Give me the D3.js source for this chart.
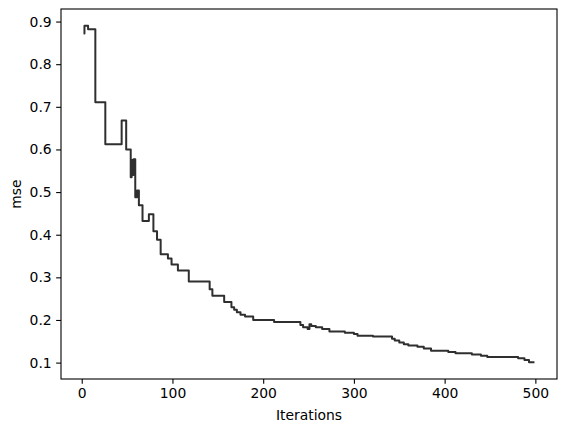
<!DOCTYPE html>
<html>
<head>
<meta charset="utf-8">
<script src="https://cdn.jsdelivr.net/npm/d3@7"></script>
<style>
  html, body { margin: 0; padding: 0; background: #fff; }
  svg { display: block; font-family: "DejaVu Sans", sans-serif; }
</style>
</head>
<body>
<svg id="chart" width="567" height="432"></svg>
<script>
// Iteration at which each new mse value starts (step-after)
const iterations = [2, 3, 7, 15, 26, 44, 49, 54, 55, 56, 57, 59, 61, 63, 67, 74, 79, 83, 87, 95, 99, 106, 118, 141, 144, 157, 165, 168, 171, 175, 180, 189, 212, 241, 244, 249, 251, 253, 258, 265, 273, 290, 300, 304, 321, 342, 345, 350, 355, 360, 370, 377, 385, 404, 412, 430, 440, 447, 481, 488, 493, 499];
const mse = [0.872, 0.890, 0.882, 0.711, 0.612, 0.668, 0.600, 0.535, 0.575, 0.540, 0.577, 0.488, 0.504, 0.469, 0.432, 0.448, 0.408, 0.388, 0.354, 0.344, 0.330, 0.316, 0.290, 0.272, 0.257, 0.242, 0.230, 0.224, 0.218, 0.212, 0.208, 0.200, 0.195, 0.188, 0.183, 0.179, 0.190, 0.186, 0.183, 0.179, 0.173, 0.170, 0.167, 0.163, 0.161, 0.156, 0.152, 0.147, 0.143, 0.140, 0.137, 0.133, 0.128, 0.125, 0.122, 0.119, 0.116, 0.113, 0.110, 0.106, 0.101, 0.101];
const xTicks = [0, 100, 200, 300, 400, 500];
const yTicks = [0.1, 0.2, 0.3, 0.4, 0.5, 0.6, 0.7, 0.8, 0.9];
const xLabel = "Iterations";
const yLabel = "mse";

(function () {
  const svg = d3.select("#chart");
  const mLeft = 61, mRight = 557, mTop = 9, mBottom = 379;

  function padded(ext) {
    const m = (ext[1] - ext[0]) * 0.05;
    return [ext[0] - m, ext[1] + m];
  }
  const x = d3.scaleLinear().domain(padded(d3.extent(iterations))).range([mLeft, mRight]);
  const y = d3.scaleLinear().domain(padded(d3.extent(mse))).range([mBottom, mTop]);

  const data = iterations.map((it, i) => ({ it, v: mse[i] }));

  const line = d3.line()
    .x(d => x(d.it))
    .y(d => y(d.v))
    .curve(d3.curveStepAfter);

  svg.append("path")
    .datum(data)
    .attr("fill", "none")
    .attr("stroke", "#2f2f2f")
    .attr("stroke-width", 2)
    .attr("stroke-linejoin", "round")
    .attr("stroke-linecap", "butt")
    .attr("d", line);

  const fontSize = 13.9;
  const tickLen = 4.86;

  const xAxis = d3.axisBottom(x).tickValues(xTicks).tickFormat(d3.format("d"))
    .tickSize(tickLen).tickPadding(4.5).tickSizeOuter(0);
  const gx = svg.append("g").attr("transform", `translate(0,${mBottom})`).call(xAxis);
  gx.select(".domain").remove();
  gx.selectAll("line").attr("stroke", "#000").attr("stroke-width", 1.1);
  gx.selectAll("text").attr("font-size", fontSize).attr("fill", "#000")
    .attr("font-family", "DejaVu Sans");

  const yAxis = d3.axisLeft(y).tickValues(yTicks).tickFormat(d3.format(".1f"))
    .tickSize(tickLen).tickPadding(4.5).tickSizeOuter(0);
  const gy = svg.append("g").attr("transform", `translate(${mLeft},0)`).call(yAxis);
  gy.select(".domain").remove();
  gy.selectAll("line").attr("stroke", "#000").attr("stroke-width", 1.1);
  gy.selectAll("text").attr("font-size", fontSize).attr("fill", "#000")
    .attr("font-family", "DejaVu Sans");

  svg.append("rect")
    .attr("x", mLeft).attr("y", mTop)
    .attr("width", mRight - mLeft).attr("height", mBottom - mTop)
    .attr("fill", "none").attr("stroke", "#000").attr("stroke-width", 1.1);

  svg.append("text")
    .attr("x", (mLeft + mRight) / 2).attr("y", 420)
    .attr("text-anchor", "middle")
    .attr("font-size", fontSize)
    .text(xLabel);

  svg.append("text")
    .attr("transform", `translate(21,${(mTop + mBottom) / 2}) rotate(-90)`)
    .attr("text-anchor", "middle")
    .attr("font-size", fontSize)
    .text(yLabel);
})();
</script>
</body>
</html>
